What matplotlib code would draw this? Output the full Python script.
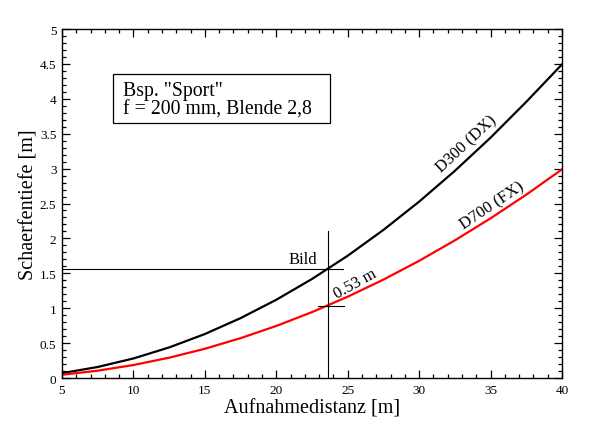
import matplotlib
matplotlib.use('Agg')
from matplotlib import pyplot as plt
from matplotlib.patches import Rectangle
from matplotlib.ticker import MultipleLocator

plt.rcParams['font.family'] = ['Liberation Serif', 'DejaVu Serif']

# distance [m] and depth of field [m]
distanz = [5, 7.5, 10, 12.5, 15, 17.5, 20, 22.5, 25, 27.5, 30, 32.5, 35, 37.5, 40]
dof_d300 = [0.070, 0.158, 0.280, 0.438, 0.630, 0.858, 1.121, 1.419, 1.752,
            2.122, 2.527, 2.968, 3.444, 3.957, 4.494]
dof_d700 = [0.047, 0.105, 0.186, 0.291, 0.419, 0.571, 0.746, 0.944, 1.165,
            1.410, 1.679, 1.972, 2.288, 2.627, 2.990]

# the marked example
bild_x = 23.65
bild_dx = 1.557
bild_fx = 1.027

xticks = [5, 10, 15, 20, 25, 30, 35, 40]
xticklabels = ['5', '10', '15', '20', '25', '30', '35', '40']
yticks = [0, 0.5, 1, 1.5, 2, 2.5, 3, 3.5, 4, 4.5, 5]
yticklabels = ['0', '0.5', '1', '1.5', '2', '2.5', '3', '3.5', '4', '4.5', '5']

fig = plt.figure(figsize=(6, 4.35), dpi=100)
ax = fig.add_axes([0.1033, 0.1287, 0.8334, 0.8023])

ax.plot(distanz, dof_d300, color='black', lw=1.6)
ax.plot(distanz, dof_d700, color='#ff0000', lw=1.6)

# guide lines for the example
ax.plot([bild_x, bild_x], [0, 2.1], color='black', lw=0.8)
ax.plot([5, 24.7], [bild_dx, bild_dx], color='black', lw=0.8)
ax.plot([22.95, 24.75], [bild_fx, bild_fx], color='black', lw=0.8)

ax.text(22.85, bild_dx + 0.03, 'Bild', ha='right', va='bottom', fontsize=12)
ax.text(24.1, 1.2, '0.53 m', ha='left', va='center', fontsize=12,
        rotation=29, rotation_mode='anchor')
ax.text(33.3, 3.36, 'D300 (DX)', ha='center', va='center', fontsize=12,
        rotation=43, rotation_mode='anchor')
ax.text(35.1, 2.48, 'D700 (FX)', ha='center', va='center', fontsize=12,
        rotation=34, rotation_mode='anchor')

# info box
ax.add_patch(Rectangle((8.57, 3.653), 15.19, 0.704, fc='white', ec='black', lw=0.9, zorder=3))
ax.text(9.25, 3.99, 'Bsp. "Sport"\nf = 200 mm, Blende 2,8', ha='left', va='center',
        fontsize=14.2, linespacing=0.95, zorder=4)

ax.set_xlim(5, 40)
ax.set_ylim(0, 5)
ax.set_xticks(xticks)
ax.set_xticklabels(xticklabels)
ax.set_yticks(yticks)
ax.set_yticklabels(yticklabels)
ax.xaxis.set_minor_locator(MultipleLocator(1))
ax.yaxis.set_minor_locator(MultipleLocator(0.1))
ax.tick_params(which='both', direction='in', top=True, right=True, labelsize=9.5, width=0.9)
ax.tick_params(which='major', length=6, pad=4)
ax.tick_params(which='minor', length=3)
for s in ax.spines.values():
    s.set_linewidth(1.0)

ax.set_xlabel('Aufnahmedistanz [m]', fontsize=14.5, labelpad=2)
ax.set_ylabel('Schaerfentiefe [m]', fontsize=14.5, labelpad=1)

fig.savefig('out.png', dpi=100)
